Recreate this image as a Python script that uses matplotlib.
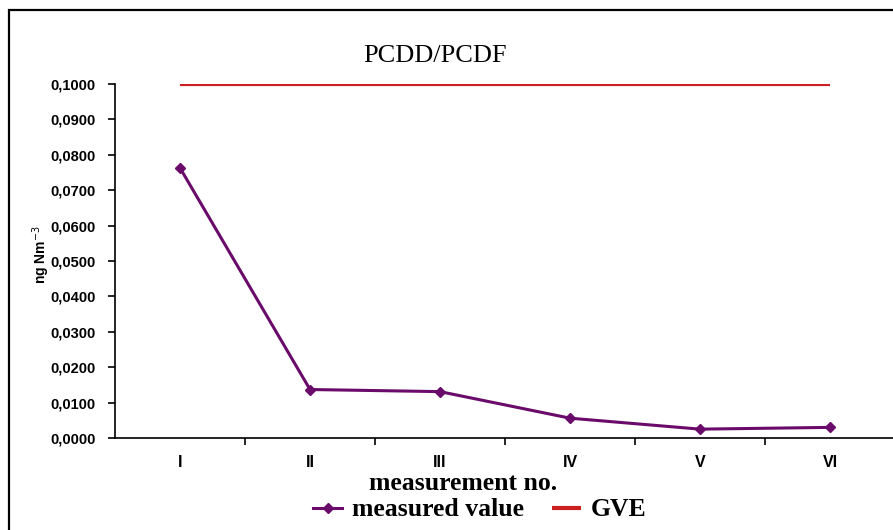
import matplotlib
matplotlib.use("Agg")
import matplotlib.pyplot as plt
from matplotlib.patches import Rectangle
from matplotlib.ticker import FuncFormatter, FixedLocator, MultipleLocator

# measurement series
categories = ["I", "II", "III", "IV", "V", "VI"]
measured = [0.0763, 0.0137, 0.0131, 0.0056, 0.0025, 0.0030]
gve_limit = [0.1, 0.1, 0.1, 0.1, 0.1, 0.1]

W, H = 893, 530
fig = plt.figure(figsize=(W / 100, H / 100), dpi=100)
fig.patch.set_facecolor("white")

# outer frame, open to the right and bottom
fig.patches.append(Rectangle((9 / W, -0.05), 1.2, 1 - 10 / H + 0.05,
                             transform=fig.transFigure, fill=False,
                             edgecolor="black", linewidth=1.6, zorder=0))

left, bottom = 115 / W, (H - 438) / H
width, height = 780 / W, 354 / H
ax = fig.add_axes([left, bottom, width, height])

x = list(range(len(categories)))
ax.plot(x, gve_limit, color="#cc1f1f", linewidth=3.0, solid_capstyle="butt",
        label="GVE", zorder=2)
ax.plot(x, measured, color="#6a0a6a", linewidth=2.2, marker="D",
        markersize=5, label="measured value", zorder=3)

ax.set_xlim(-0.5, len(categories) - 0.5)
ax.set_ylim(0, 0.1)

for s in ("top", "right"):
    ax.spines[s].set_visible(False)
for s in ("left", "bottom"):
    ax.spines[s].set_linewidth(1.2)
    ax.spines[s].set_color("black")

ax.yaxis.set_major_locator(MultipleLocator(0.01))
ax.yaxis.set_major_formatter(FuncFormatter(lambda v, p: f"{v:.4f}".replace(".", ",")))
ax.xaxis.set_major_locator(FixedLocator([i + 0.5 for i in x[:-1]] + [len(x) - 0.5]))
ax.xaxis.set_major_formatter(FuncFormatter(lambda v, p: ""))
ax.xaxis.set_minor_locator(FixedLocator(x))
ax.set_xticklabels(categories, minor=True)
ax.tick_params(axis="x", which="minor", length=0, pad=12)
ax.tick_params(axis="x", which="major", length=5, width=1.2, direction="out")
ax.tick_params(axis="y", length=5, width=1.2, direction="out", pad=9)

for lbl in ax.get_yticklabels():
    lbl.set(family="Liberation Sans", weight="bold", size=10.5)
for lbl in ax.get_xticklabels(minor=True):
    lbl.set(family="Liberation Sans", weight="bold", size=11.5)

fig.text(435 / W, 1 - 56 / H, "PCDD/PCDF", ha="center", va="center",
         family="Liberation Serif", size=19)
fig.text(463 / W, 1 - 484 / H, "measurement no.", ha="center", va="center",
         family="Liberation Serif", weight="bold", size=18.5)
fig.text(41 / W, 1 - 255 / H, "ng Nm$^{-3}$", ha="center", va="center",
         rotation=90, family="Liberation Sans", weight="bold", size=10)

leg = fig.legend(loc="center", bbox_to_anchor=(480 / W, 1 - 510 / H), ncol=2,
                 frameon=False, handlelength=1.1, columnspacing=1.1,
                 handletextpad=0.4,
                 handles=ax.get_lines()[::-1],
                 prop=dict(family="Liberation Serif", weight="bold", size=18.5))

fig.savefig("out.png", dpi=100)
